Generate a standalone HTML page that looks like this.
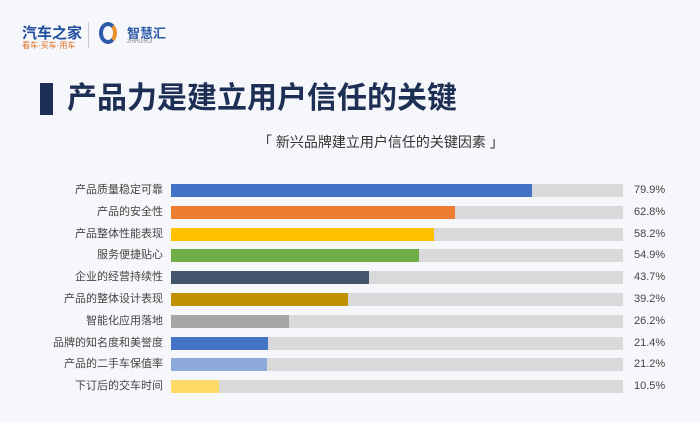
<!DOCTYPE html>
<html><head><meta charset="utf-8"><style>
body{margin:0;width:700px;height:422px;background:#f6f7fa;position:relative;overflow:hidden;font-family:"Liberation Sans","Noto Sans CJK SC",sans-serif}
.a{position:absolute}
.lab{position:absolute;right:537px;font-size:11px;color:#444;white-space:nowrap;line-height:13px}
.tr{position:absolute;left:171px;width:452px;height:13px;background:#d9d9d9}
.bar{position:absolute;left:171px;height:13px}
.v{position:absolute;left:634px;font-size:11px;color:#444;line-height:13px}
</style></head><body>
<div class="a" style="left:22px;top:22px;font-size:15px;font-weight:bold;color:#1f4e9e;letter-spacing:0px">汽车之家</div>
<div class="a" style="left:22px;top:40px;font-size:8px;color:#e07020">看车·买车·用车</div>
<div class="a" style="left:88px;top:22px;width:1px;height:26px;background:#ccc"></div>
<div class="a" style="left:99px;top:22px;width:18px;height:22px;border:4px solid #2c5aa8;border-right-color:#e8902a;border-radius:50%;box-sizing:border-box"></div>
<div class="a" style="left:127px;top:23px;font-size:13px;color:#2c5aa8;font-weight:bold">智慧汇</div>
<div class="a" style="left:127px;top:39px;font-size:5px;color:#888">ZHIHUIHUI</div>
<div class="a" style="left:40px;top:83px;width:13px;height:32px;background:#1e2f55"></div>
<div class="a" style="left:67px;top:79px;font-size:30px;font-weight:bold;color:#1e2f55;line-height:40px">产品力是建立用户信任的关键</div>
<div class="a" style="left:258px;top:133px;font-size:14px;color:#333;line-height:18px">「 新兴品牌建立用户信任的关键因素 」</div>
<div id="c"></div>
<script>
var d=[["产品质量稳定可靠",79.9,"#4472c4"],["产品的安全性",62.8,"#ed7d31"],["产品整体性能表现",58.2,"#ffc000"],["服务便捷贴心",54.9,"#70ad47"],["企业的经营持续性",43.7,"#44546a"],["产品的整体设计表现",39.2,"#bf9000"],["智能化应用落地",26.2,"#a5a5a5"],["品牌的知名度和美誉度",21.4,"#4472c4"],["产品的二手车保值率",21.2,"#8eaadb"],["下订后的交车时间",10.5,"#ffd966"]];
var h="";d.forEach(function(r,i){var t=184+i*21.8;
h+='<div class="lab" style="top:'+t+'px">'+r[0]+'</div><div class="tr" style="top:'+t+'px"></div><div class="bar" style="top:'+t+'px;width:'+(r[1]/100*452).toFixed(1)+'px;background:'+r[2]+'"></div><div class="v" style="top:'+t+'px">'+r[1].toFixed(1)+'%</div>';});
document.getElementById("c").innerHTML=h;
</script>
</body></html>
